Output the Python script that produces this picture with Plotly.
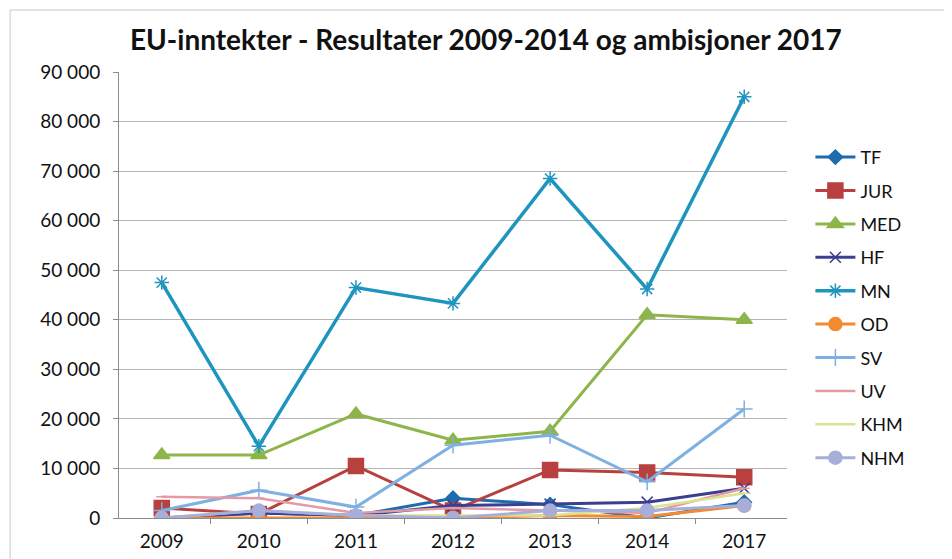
import plotly.graph_objects as go

years = ["2009", "2010", "2011", "2012", "2013", "2014", "2017"]
series_names = ["TF", "JUR", "MED", "HF", "MN", "OD", "SV", "UV", "KHM", "NHM"]

TF = [0, 1000, 500, 4000, 2700, 0, 3200]
JUR = [2000, 800, 10500, 1500, 9700, 9200, 8200]
MED = [12700, 12700, 21000, 15700, 17500, 41000, 40000]
HF = [0, 1000, 500, 2500, 2800, 3200, 6000]
MN = [47500, 14500, 46500, 43300, 68500, 46200, 85000]
OD = [0, 0, 0, 0, 500, 300, 2500]
SV = [1500, 5600, 2200, 14700, 16700, 7300, 22000]
UV = [4300, 4000, 1000, 2000, 1500, 1000, 6000]
KHM = [0, 1500, 500, 500, 500, 2000, 5000]
NHM = [0, 1500, 500, 0, 1500, 1500, 2500]

y_ticks = [0, 10000, 20000, 30000, 40000, 50000, 60000, 70000, 80000, 90000]
title_text = "EU-inntekter - Resultater 2009-2014 og ambisjoner 2017"

values = [TF, JUR, MED, HF, MN, OD, SV, UV, KHM, NHM]
styles = {
    "TF": dict(color="#1F6BB0", symbol="diamond", size=11, width=3),
    "JUR": dict(color="#B8403F", symbol="square", size=15, width=3),
    "MED": dict(color="#8DB54A", symbol="triangle-up", size=14, width=3),
    "HF": dict(color="#3A3F8F", symbol="x-thin", size=11, width=3),
    "MN": dict(color="#1E95BE", symbol="asterisk", size=12, width=3.5),
    "OD": dict(color="#F28A30", symbol="circle", size=13, width=3),
    "SV": dict(color="#7FB0E2", symbol="cross-thin", size=12, width=3),
    "UV": dict(color="#E39AA6", symbol="line-ew", size=8, width=2.5),
    "KHM": dict(color="#D9E38F", symbol="line-ew", size=8, width=2.5),
    "NHM": dict(color="#A7AEDA", symbol="circle", size=13, width=3),
}

fig = go.Figure()
for i, (name, vals) in enumerate(zip(series_names, values)):
    s = styles[name]
    fig.add_trace(go.Scatter(
        x=years, y=vals, name=name, mode="lines+markers",
        legendgroup=f"g{i}",
        line=dict(color=s["color"], width=s["width"]),
        marker=dict(symbol=s["symbol"], size=s["size"], color=s["color"],
                    line=dict(color=s["color"], width=1.5)),
    ))

fig.update_layout(
    width=952, height=559,
    paper_bgcolor="white", plot_bgcolor="white",
    separators=", ",
    font=dict(family="Lato, Open Sans, sans-serif", color="#111111", size=17),
    title=dict(text="<b>" + title_text + "</b>", x=0.502, xanchor="center",
               y=0.943, yanchor="middle", font=dict(size=28, color="#111111")),
    margin=dict(l=111, r=173, t=64, b=49),
    legend=dict(x=1.035, y=0.85, xanchor="left", yanchor="top",
                traceorder="grouped", tracegroupgap=7, itemwidth=40,
                font=dict(size=18), bgcolor="rgba(0,0,0,0)"),
    shapes=[
        dict(type="rect", xref="paper", yref="paper", x0=-0.163, x1=1.4,
             y0=-0.3, y1=1.139, line=dict(color="#C8C8C8", width=1),
             fillcolor="rgba(0,0,0,0)", layer="below"),
    ],
)
fig.update_xaxes(type="category", showgrid=False, showline=True,
                 linecolor="#8C8C8C", linewidth=1, ticks="outside",
                 tickson="boundaries", ticklen=5, tickcolor="#8C8C8C",
                 ticklabelstandoff=6, tickfont=dict(size=19))
fig.update_yaxes(range=[0, 90000], tickvals=y_ticks, tickformat=",d",
                 showgrid=True, gridcolor="#B5B5B5", gridwidth=1,
                 showline=True, linecolor="#8C8C8C", linewidth=1,
                 ticks="outside", ticklen=5, tickcolor="#8C8C8C",
                 ticklabelstandoff=9,
                 zeroline=False, tickfont=dict(size=19))

fig.write_html("out.html")
